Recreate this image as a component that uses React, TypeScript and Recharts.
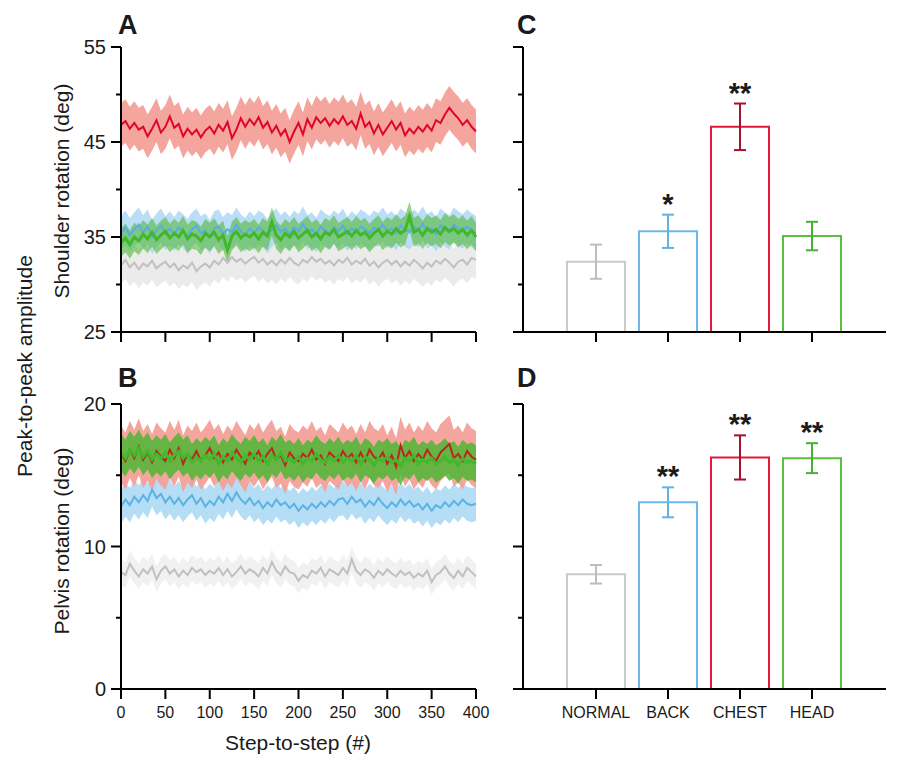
import {
  ComposedChart, Line, Area, Bar, Cell, XAxis, YAxis, ErrorBar, LabelList
} from 'recharts'

const FONT = '"Liberation Sans", Arial, Helvetica, sans-serif'
const INK = '#1a1a1a'

// step-to-step series, one value every 5 steps (0..400)
const redA = [
  46.8, 47.2, 46.4, 47.0, 46.3, 46.6, 45.6, 46.4, 47.3, 46.0,
  46.6, 47.7, 46.5, 46.9, 45.6, 46.4, 45.8, 46.3, 45.5, 46.2,
  46.6, 45.9, 46.8, 46.2, 47.1, 45.4, 46.3, 47.5, 46.6, 47.4,
  46.8, 47.6, 46.5, 47.1, 46.0, 46.7, 45.7, 46.3, 45.0, 46.1,
  47.0, 45.8, 47.4, 46.5, 47.6, 47.0, 47.5, 46.7, 47.4, 46.9,
  47.7, 46.8, 47.2, 46.4, 48.0, 46.6, 47.1, 45.9, 46.8, 45.8,
  46.5, 47.2, 46.3, 47.0, 45.7, 46.4, 45.9, 46.6, 46.1, 46.8,
  46.2, 47.3, 47.0, 47.9, 48.6, 48.0, 47.5, 46.8, 47.3, 46.6,
  46.1,
]
const blueA = [
  35.4, 36.0, 35.2, 35.8, 36.3, 35.5, 36.1, 35.0, 35.7, 36.2,
  35.4, 35.9, 35.3, 36.0, 35.6, 35.1, 35.8, 36.2, 35.4, 35.7,
  35.0, 35.9, 36.1, 35.3, 35.8, 35.5, 36.3, 35.6, 35.2, 35.9,
  35.4, 36.0, 35.7, 35.1, 35.8, 36.2, 35.5, 35.9, 35.3, 36.0,
  35.6, 36.4, 35.5, 35.8, 35.2, 36.1, 35.7, 35.4, 36.0, 35.6,
  36.2, 35.3, 35.9, 35.5, 36.1, 35.8, 35.4, 36.0, 35.7, 36.3,
  35.6, 35.9, 35.4, 36.2, 35.8, 35.5, 36.1, 35.7, 36.4, 35.6,
  35.9, 35.3, 36.2, 35.8, 35.5, 36.3, 35.9, 35.6, 36.1, 35.7,
  35.4,
]
const greenA = [
  34.4, 34.9, 34.2, 35.0, 34.6, 35.3, 34.8, 35.5, 34.7, 35.2,
  35.6, 34.9, 35.4, 35.0, 35.7, 34.8, 35.3, 35.1, 34.6, 35.4,
  35.0, 35.5, 34.7, 35.2, 33.6, 35.1, 35.6, 34.9, 35.3, 35.0,
  35.4, 34.8, 35.5, 35.1, 36.6, 35.2, 34.7, 35.4, 35.0, 35.6,
  34.9, 35.3, 35.7, 35.0, 35.4, 34.8, 35.5, 35.2, 35.8, 35.0,
  35.3, 35.6, 35.1, 35.7, 35.2, 35.5, 34.9, 35.4, 35.8, 35.1,
  35.6, 35.3, 35.9, 35.4, 35.7, 37.2, 35.5, 35.8, 35.2, 35.9,
  35.5, 35.8, 35.3, 36.0, 35.6, 35.9, 35.4, 35.8, 35.2, 35.7,
  35.0,
]
const grayA = [
  32.0, 32.6, 31.8, 32.3, 31.6, 32.2, 31.9, 32.5, 31.7, 32.1,
  32.4, 31.8, 32.2, 31.5, 32.0, 31.7, 32.3, 31.4, 31.9, 32.2,
  31.8, 32.5, 32.1, 32.8, 32.3, 32.9, 32.4, 32.7, 32.2, 32.6,
  32.9, 32.3, 32.7, 32.1, 32.5, 32.0, 32.6, 32.2, 32.8, 32.3,
  32.0, 32.6, 32.3, 32.9, 32.4, 32.7, 32.2, 32.5, 32.0, 32.6,
  32.3, 32.8, 32.1, 32.5, 32.2, 32.7, 32.0, 32.4, 31.8, 32.3,
  32.6, 32.1, 32.5, 31.9, 32.4, 32.0, 32.6, 32.2, 31.7, 32.3,
  31.9, 32.5, 32.2, 32.7, 32.3, 31.8, 32.4, 32.6, 32.1, 32.8,
  32.6,
]
const redB = [
  16.5, 16.0, 16.8, 16.2, 17.0, 16.1, 16.6, 15.9, 16.7, 16.3,
  16.0, 16.8, 16.2, 16.9, 15.8, 16.5, 16.1, 16.7, 16.0, 16.4,
  16.9, 16.2, 16.6, 15.9, 16.5, 16.1, 16.8, 16.3, 15.8, 16.6,
  16.2, 16.7, 16.0, 16.5, 16.9, 16.1, 16.4, 15.7, 16.6, 16.2,
  16.0, 16.5, 16.2, 16.8, 16.1, 16.4, 15.8, 16.6, 16.3, 16.0,
  16.7, 16.2, 16.5, 15.9, 16.6, 16.0, 16.8, 16.3, 16.1, 16.6,
  15.8, 16.4, 15.6, 17.1, 16.2, 16.7, 16.0, 16.5, 16.1, 16.8,
  16.3, 16.0, 16.6, 16.9, 17.2, 16.2, 16.5, 16.0, 16.7, 16.3,
  16.1,
]
const greenB = [
  16.6, 16.2, 16.8, 16.4, 16.9, 16.3, 16.7, 16.1, 16.5, 16.2,
  16.6, 16.0, 16.4, 16.7, 16.2, 16.5, 15.9, 16.3, 16.0, 16.4,
  16.1, 16.5, 15.8, 16.3, 16.0, 16.6, 16.2, 15.9, 16.4, 16.1,
  16.5, 16.0, 16.3, 15.8, 16.4, 16.1, 16.6, 16.0, 16.2, 15.9,
  16.3, 15.8, 16.2, 16.0, 16.5, 16.1, 15.9, 16.3, 16.0, 16.4,
  15.9, 16.2, 16.0, 16.4, 15.8, 16.3, 16.1, 15.7, 16.2, 16.0,
  16.3, 15.9, 16.1, 15.6, 16.2, 16.0, 16.4, 15.8, 16.1, 15.9,
  16.2, 15.8, 16.0, 16.3, 15.9, 16.1, 15.7, 16.2, 15.9, 16.0,
  15.8,
]
const blueB = [
  12.8, 13.3, 12.9, 13.5, 13.1, 13.6, 13.2, 14.0, 13.4, 13.7,
  13.1, 13.5, 13.0, 13.4, 12.9, 13.3, 13.6, 13.0, 13.4, 12.8,
  13.2, 12.9, 13.5, 13.1, 13.7, 13.2, 13.8, 13.3, 13.0, 13.4,
  12.9, 13.2, 12.7, 13.1, 12.8, 13.3, 12.9, 13.1, 12.7, 13.0,
  12.5, 12.9, 12.6, 13.0, 12.7, 13.1, 12.8, 13.2, 12.9, 13.3,
  13.4, 13.0, 13.5, 13.1, 13.3, 12.8, 13.2, 12.9, 13.4, 13.0,
  12.7, 13.1, 12.8, 13.3, 12.9, 13.2, 12.8, 13.0, 12.6, 13.0,
  12.5, 12.9, 12.7, 13.1, 12.8, 13.2, 12.9, 13.3, 13.0, 12.9,
  13.0,
]
const grayB = [
  8.2, 8.0, 8.8, 8.3, 7.9, 8.4, 8.1, 8.6, 7.7, 8.3,
  8.6, 8.1, 8.4, 7.9, 8.3, 8.0, 8.5, 8.2, 8.4, 8.0,
  8.3, 8.1, 8.5, 8.0, 8.4, 7.9, 8.2, 8.6, 8.1, 8.4,
  8.2, 7.9, 8.5, 8.1, 8.9, 8.3, 8.0, 8.6, 8.2, 8.1,
  7.6, 8.0, 7.8, 8.3, 8.1, 8.5, 7.9, 8.4, 8.2, 8.0,
  8.5, 8.1, 9.1, 8.3, 8.0, 8.4, 8.2, 7.8, 8.3, 8.0,
  8.4, 8.1, 7.9, 8.3, 8.0, 8.2, 7.8, 8.1, 7.9, 8.3,
  7.5, 8.0, 8.2, 8.6, 8.1, 7.8, 8.3, 7.9, 8.5, 8.2,
  7.9,
]
const steps = redA.map((_, i) => i * 5)

// group means (bars) with SEM
const categories = ['NORMAL', 'BACK', 'CHEST', 'HEAD']
const shoulderMean = [32.4, 35.6, 46.6, 35.1]
const shoulderErr = [1.8, 1.75, 2.45, 1.5]
const shoulderStars = ['', '*', '**', '']
const pelvisMean = [8.05, 13.1, 16.25, 16.2]
const pelvisErr = [0.65, 1.05, 1.55, 1.05]
const pelvisStars = ['', '**', '**', '**']

const barColors = ['#c9c9c9', '#6cb9e7', '#e2193b', '#5cbf3f']
const errColors = ['#bdbdbd', '#62b2e2', '#a3122f', '#46b132']

const xTicks = [0, 50, 100, 150, 200, 250, 300, 350, 400]
const axisStyle = { stroke: '#000', strokeWidth: 2 }

type Series = { key: string, mean: number[], sd: number, band: string, bandOpacity: number, line: string, width: number }

const shoulderSeries: Series[] = [
  { key: 'gray', mean: grayA, sd: 2.0, band: '#e6e6e6', bandOpacity: 0.8, line: '#c4bebe', width: 2 },
  { key: 'blue', mean: blueA, sd: 1.8, band: '#a3d3f2', bandOpacity: 0.75, line: '#58ade0', width: 2 },
  { key: 'green', mean: greenA, sd: 1.5, band: '#55bc3e', bandOpacity: 0.62, line: '#42b72c', width: 3 },
  { key: 'red', mean: redA, sd: 2.3, band: '#f3a098', bandOpacity: 0.95, line: '#e0062b', width: 2 },
]
const pelvisSeries: Series[] = [
  { key: 'gray', mean: grayB, sd: 0.9, band: '#eeeeee', bandOpacity: 0.8, line: '#c4bebe', width: 2 },
  { key: 'blue', mean: blueB, sd: 1.2, band: '#a8d7f3', bandOpacity: 0.85, line: '#5ab3e3', width: 2 },
  { key: 'red', mean: redB, sd: 2.0, band: '#f3a098', bandOpacity: 0.95, line: '#b8281c', width: 2 },
  { key: 'green', mean: greenB, sd: 1.3, band: '#47b72f', bandOpacity: 0.82, line: '#43b82d', width: 3 },
]

function buildRows(series: Series[]) {
  return steps.map((step, i) => {
    const row: Record<string, unknown> = { step }
    series.forEach(s => {
      row[s.key] = s.mean[i]
      row[s.key + 'Band'] = [s.mean[i] - s.sd, s.mean[i] + s.sd]
    })
    return row
  })
}

function buildBars(mean: number[], err: number[], stars: string[]) {
  return categories.map((cat, i) => ({
    cat, mean: mean[i], err: err[i], top: mean[i] + err[i], star: stars[i],
  }))
}

// y ticks: long + labelled at majors, short at minors
const yTick = (majors: number[], labelled: boolean) => (p: any) => {
  const v = p.payload.value
  const major = majors.includes(v)
  const len = major ? 10 : 5
  return (
    <g>
      <line x1={p.x - len} x2={p.x} y1={p.y} y2={p.y} stroke="#000" strokeWidth={2} />
      {labelled && major && (
        <text x={p.x - 15} y={p.y} dy="0.36em" textAnchor="end" fontSize={20} fill={INK} fontFamily={FONT}>{v}</text>
      )}
    </g>
  )
}

function TimePanel({ series, domain, yTicks, majors, height, top, showX }: {
  series: Series[], domain: [number, number], yTicks: number[], majors: number[], height: number, top: number, showX: boolean
}) {
  const rows = buildRows(series)
  return (
    <ComposedChart width={500} height={height} data={rows} margin={{ top, right: 24, bottom: 0, left: 61 }}>
      <XAxis
        dataKey="step" type="number" domain={[0, 400]} ticks={xTicks} interval={0}
        height={height - top - 285} tickSize={10} tickMargin={8}
        axisLine={axisStyle} tickLine={axisStyle}
        tick={{ fontSize: 16, fill: INK, fontFamily: FONT }}
        tickFormatter={showX ? undefined : () => ''}
      />
      <YAxis
        type="number" domain={domain} ticks={yTicks} interval={0} width={60}
        tickSize={0} tickMargin={0} tickLine={false} axisLine={axisStyle}
        tick={yTick(majors, true)}
      />
      {series.map(s => [
        <Area key={s.key + 'Band'} dataKey={s.key + 'Band'} type="linear" stroke="none"
          fill={s.band} fillOpacity={s.bandOpacity} isAnimationActive={false} />,
        <Line key={s.key} dataKey={s.key} type="linear" stroke={s.line} strokeWidth={s.width}
          dot={false} activeDot={false} isAnimationActive={false} />,
      ])}
    </ComposedChart>
  )
}

function BarPanel({ data, domain, yTicks, majors, height, top, showX }: {
  data: ReturnType<typeof buildBars>, domain: [number, number], yTicks: number[], majors: number[], height: number, top: number, showX: boolean
}) {
  return (
    <ComposedChart width={400} height={height} data={data} margin={{ top, right: 14, bottom: 0, left: 0 }}>
      <XAxis
        dataKey="cat" type="category" padding={{ left: 37, right: 38 }} interval={0}
        height={height - top - 285} tickSize={10} tickMargin={8}
        axisLine={axisStyle} tickLine={axisStyle}
        tick={{ fontSize: 16, fill: INK, fontFamily: FONT }}
        tickFormatter={showX ? undefined : () => ''}
      />
      <YAxis
        type="number" domain={domain} ticks={yTicks} interval={0} width={23}
        tickSize={0} tickMargin={0} tickLine={false} axisLine={axisStyle}
        tick={yTick(majors, false)}
      />
      <Bar dataKey="mean" barSize={58} fill="#fff" strokeWidth={2} isAnimationActive={false}>
        {categories.map((c, i) => <Cell key={c} stroke={barColors[i]} />)}
        {categories.map((c, i) => (
          <ErrorBar key={c} dataKey={(r: any) => (r.cat === c ? r.err : undefined)} direction="y"
            width={6} strokeWidth={2} stroke={errColors[i]} />
        ))}
      </Bar>
      <Line dataKey="top" stroke="none" dot={false} activeDot={false} isAnimationActive={false}>
        <LabelList dataKey="star" position="top" offset={1}
          style={{ fontSize: 29, fontWeight: 700, fill: INK, fontFamily: FONT }} />
      </Line>
    </ComposedChart>
  )
}

const letter = (text: string, left: number, top: number) => (
  <div style={{ position: 'absolute', left, top, fontSize: 27, fontWeight: 700, lineHeight: '1', color: INK }}>{text}</div>
)

const vLabel = (text: string, cx: number, cy: number) => (
  <div style={{
    position: 'absolute', left: cx, top: cy, fontSize: 21, lineHeight: '1', color: INK,
    whiteSpace: 'nowrap', transform: 'translate(-50%, -50%) rotate(-90deg)',
  }}>{text}</div>
)

export default function App() {
  return (
    <div style={{ position: 'absolute', left: 0, top: 0, width: 900, height: 764, background: '#fff', fontFamily: FONT, overflow: 'hidden' }}>
      <div style={{ position: 'absolute', left: 0, top: 0 }}>
        <TimePanel series={shoulderSeries} domain={[25, 55]} yTicks={[25, 30, 35, 40, 45, 50, 55]}
          majors={[25, 35, 45, 55]} height={360} top={47} showX={false} />
      </div>
      <div style={{ position: 'absolute', left: 0, top: 360 }}>
        <TimePanel series={pelvisSeries} domain={[0, 20]} yTicks={[0, 5, 10, 15, 20]}
          majors={[0, 10, 20]} height={404} top={44} showX />
      </div>
      <div style={{ position: 'absolute', left: 500, top: 0 }}>
        <BarPanel data={buildBars(shoulderMean, shoulderErr, shoulderStars)} domain={[25, 55]}
          yTicks={[25, 30, 35, 40, 45, 50, 55]} majors={[25, 35, 45, 55]} height={360} top={47} showX={false} />
      </div>
      <div style={{ position: 'absolute', left: 500, top: 360 }}>
        <BarPanel data={buildBars(pelvisMean, pelvisErr, pelvisStars)} domain={[0, 20]}
          yTicks={[0, 5, 10, 15, 20]} majors={[0, 10, 20]} height={404} top={44} showX />
      </div>
      {letter('A', 118, 12)}
      {letter('B', 118, 365)}
      {letter('C', 517, 12)}
      {letter('D', 517, 365)}
      {vLabel('Peak-to-peak amplitude', 24, 366)}
      {vLabel('Shoulder rotation (deg)', 61, 191)}
      {vLabel('Pelvis rotation (deg)', 61, 541)}
      <div style={{ position: 'absolute', left: 298, top: 742, fontSize: 21, lineHeight: '1', color: INK, whiteSpace: 'nowrap', transform: 'translate(-50%, -50%)' }}>
        Step-to-step (#)
      </div>
    </div>
  )
}
